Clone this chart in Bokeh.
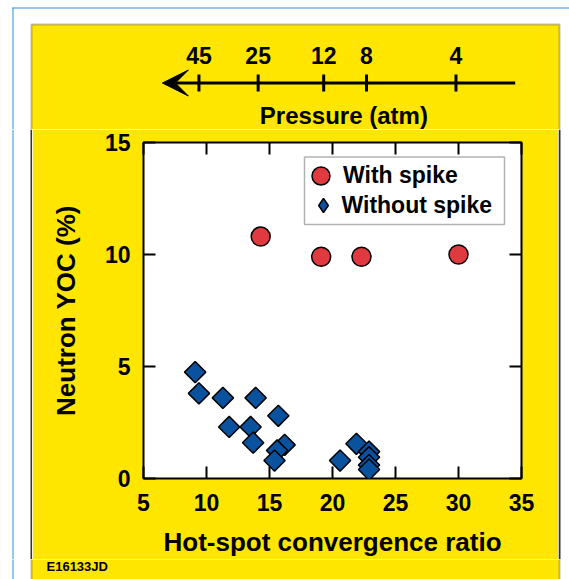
import math
from bokeh.plotting import figure
from bokeh.models import (Range1d, FixedTicker, LinearAxis, Legend, LegendItem,
                          BoxAnnotation, Arrow, VeeHead)
from bokeh.layouts import column, row
from bokeh.embed import file_html
from bokeh.resources import INLINE
from bokeh.core.properties import value

# ---------------- data ----------------
with_cr = [14.3, 19.1, 22.3, 30.0]
with_yoc = [10.8, 9.9, 9.9, 10.0]

without_cr = [9.1, 9.4, 11.3, 13.9, 15.7, 11.8, 13.5, 13.7, 16.2, 15.6, 15.4,
              20.6, 21.9, 22.9, 22.9, 22.9, 22.9]
without_yoc = [4.75, 3.8, 3.6, 3.6, 2.8, 2.3, 2.3, 1.6, 1.5, 1.25, 0.8,
               0.8, 1.55, 1.2, 0.95, 0.6, 0.4]

x_ticks = [5, 10, 15, 20, 25, 30, 35]
y_ticks = [0, 5, 10, 15]

pressure_labels = ["45", "25", "12", "8", "4"]
pressure_cr = [9.4, 14.1, 19.3, 22.7, 29.8]

# ---------------- style / layout ----------------
YELLOW = "#FFE600"
RED = "#E0393F"
BLUE = "#0A529E"
FRAME_BLUE = "#2E90D2"
DARK = "#333333"
FONT = "Liberation Sans"

W, H = 569, 579
TOP_H = 129            # pressure scale strip
FOOT_H = 20            # footer strip
MID_H = H - TOP_H - FOOT_H
LEFT_W, RIGHT_W = 32, 11
MAIN_W = W - LEFT_W - RIGHT_W
FRAME_L, FRAME_R = 143, 521      # page x of plot frame
FRAME_T, FRAME_B = 142, 479      # page y of plot frame
XMIN, XMAX = 5, 35


def canvas_box(fig, l, r, t, b, **kw):
    fig.add_layout(BoxAnnotation(left=l, right=r, top=t, bottom=b,
                                 left_units="canvas", right_units="canvas",
                                 top_units="canvas", bottom_units="canvas",
                                 level="underlay", **kw))


def deco_fig(w, h, x_range=None):
    f = figure(width=w, height=h, title=None, frame_align=False,
               x_range=x_range if x_range is not None else Range1d(0, w),
               y_range=Range1d(h, 0),
               output_backend="svg", toolbar_location=None,
               x_axis_location=None, y_axis_location=None,
               min_border=0, min_border_left=0, min_border_right=0,
               min_border_top=0, min_border_bottom=0,
               background_fill_color="white", border_fill_color="white",
               outline_line_color=None)
    f.grid.visible = False
    return f


# ---------------- top: pressure scale ----------------
px_per = (FRAME_R - FRAME_L) / (XMAX - XMIN)
top = deco_fig(W, TOP_H, Range1d(XMIN - FRAME_L / px_per, XMAX + (W - FRAME_R) / px_per))
canvas_box(top, 31, 559, 24, TOP_H + 50, fill_color=YELLOW, fill_alpha=1,
           line_color=DARK, line_width=2)
canvas_box(top, 12, W, 7, 8, fill_color=FRAME_BLUE, fill_alpha=1, line_color=None)
canvas_box(top, 12, 13, 7, TOP_H, fill_color=FRAME_BLUE, fill_alpha=1, line_color=None)

top.add_layout(Arrow(end=VeeHead(size=26, fill_color="black", line_color="black",
                                 line_width=1),
                     x_start=34.5, x_end=6.5, y_start=82.5, y_end=82.5,
                     line_width=3, line_color="black"))
top.scatter(x=pressure_cr, y=[82.5] * len(pressure_cr), marker="dash",
            angle=math.pi / 2, size=17, line_width=3, line_color="black")
top.text(x=pressure_cr, y=[54.5] * len(pressure_cr), text=pressure_labels,
         text_align="center", text_baseline="middle",
         text_font=value(FONT), text_font_style=value("bold"),
         text_font_size=value("23px"), text_color="black")
top.text(x=[20.9], y=[115], text=["Pressure (atm)"],
         text_align="center", text_baseline="middle",
         text_font=value(FONT), text_font_style=value("bold"),
         text_font_size=value("24px"), text_color="black")

# ---------------- side decorations ----------------
left = deco_fig(LEFT_W, MID_H)
canvas_box(left, 12, 13, 0, MID_H, fill_color=FRAME_BLUE, fill_alpha=1, line_color=None)
canvas_box(left, 30, 32, 0, MID_H, fill_color=DARK, fill_alpha=1, line_color=None)

right = deco_fig(RIGHT_W, MID_H)
canvas_box(right, 0, 2, 0, MID_H, fill_color=DARK, fill_alpha=1, line_color=None)

# ---------------- footer ----------------
foot = deco_fig(W, FOOT_H)
canvas_box(foot, 31, 559, -50, FOOT_H + 50, fill_color=YELLOW, fill_alpha=1,
           line_color=DARK, line_width=2)
canvas_box(foot, 12, 13, 0, FOOT_H, fill_color=FRAME_BLUE, fill_alpha=1, line_color=None)
foot.text(x=[46], y=[6.7], text=["E16133JD"], text_align="left",
          text_baseline="middle", text_font=value(FONT),
          text_font_style=value("bold"), text_font_size=value("13px"),
          text_color="black")

# ---------------- main plot ----------------
p = figure(width=MAIN_W, height=MID_H, title=None, frame_align=False,
           x_range=Range1d(XMIN, XMAX), y_range=Range1d(0, 15),
           output_backend="svg", toolbar_location=None,
           min_border_left=FRAME_L - LEFT_W, min_border_right=LEFT_W + MAIN_W - FRAME_R,
           min_border_top=FRAME_T - TOP_H, min_border_bottom=TOP_H + MID_H - FRAME_B,
           background_fill_color="white", border_fill_color=YELLOW,
           outline_line_color="black", outline_line_width=2)
p.grid.visible = False


def style_axis(ax, labels=True):
    ax.major_tick_in = 12
    ax.major_tick_out = 0
    ax.major_tick_line_width = 2
    ax.major_tick_line_color = "black"
    ax.minor_tick_line_color = None
    ax.axis_line_color = None
    ax.major_label_text_font = FONT
    ax.major_label_text_font_style = "bold"
    if labels:
        ax.major_label_text_font_size = "23px"
        ax.major_label_text_color = "black"
    else:
        ax.major_label_text_font_size = "2px"
        ax.major_label_standoff = 0
        ax.major_label_text_color = None
    ax.axis_label_text_font = FONT
    ax.axis_label_text_font_style = "bold"
    ax.axis_label_text_font_size = "26px"
    ax.axis_label_text_color = "black"


xa = p.xaxis[0]
xa.ticker = FixedTicker(ticks=x_ticks)
style_axis(xa)
xa.major_label_standoff = 15
xa.axis_label = "Hot-spot convergence ratio"
xa.axis_label_standoff = 13

ya = p.yaxis[0]
ya.ticker = FixedTicker(ticks=y_ticks)
style_axis(ya)
ya.major_label_standoff = 13
ya.axis_label = "Neutron YOC (%)"
ya.axis_label_standoff = 21

xa_top = LinearAxis(ticker=FixedTicker(ticks=x_ticks))
style_axis(xa_top, labels=False)
p.add_layout(xa_top, "above")
ya_right = LinearAxis(ticker=FixedTicker(ticks=y_ticks))
style_axis(ya_right, labels=False)
p.add_layout(ya_right, "right")

r_with = p.scatter(x=with_cr, y=with_yoc, marker="circle", size=19,
                   fill_color=RED, line_color="black", line_width=1.5)
r_without = p.scatter(x=without_cr, y=without_yoc, marker="square",
                      angle=math.pi / 4, size=15,
                      fill_color=BLUE, line_color="black", line_width=1.5)
# legend swatch for the diamonds (the legend does not rotate markers)
r_without_key = p.scatter(x=[float("nan")], y=[float("nan")], marker="diamond",
                          size=15, fill_color=BLUE, line_color="black", line_width=1.5)

# legend frame (page coords 304..504 x 156.5..224)
canvas_box(p, 304 - LEFT_W, 504 - LEFT_W, 156.5 - TOP_H, 224 - TOP_H,
           fill_color="white", fill_alpha=1, line_color="black", line_width=1.5)

legend_common = dict(padding=0, spacing=0, margin=0,
                     label_text_font=FONT, label_text_font_style="bold",
                     label_text_font_size="23px", label_text_color="black",
                     border_line_color=None, background_fill_alpha=0)
# one entry per legend so each swatch can have its own size; positions are
# screen offsets (x from frame left, y from frame bottom to legend bottom)
leg1 = Legend(items=[LegendItem(label="With spike", renderers=[r_with])],
              location=(298 - FRAME_L, FRAME_B - (176.5 + 22.5)),
              glyph_width=45, glyph_height=45, label_standoff=0, **legend_common)
leg2 = Legend(items=[LegendItem(label="Without spike", renderers=[r_without_key])],
              location=(304.5 - FRAME_L, FRAME_B - (206 + 18)),
              glyph_width=36, glyph_height=36, label_standoff=1, **legend_common)
p.add_layout(leg1)
p.add_layout(leg2)

layout = column(top, row(left, p, right, spacing=0), foot, spacing=0)
open("out.html", "w").write(file_html(layout, INLINE))
